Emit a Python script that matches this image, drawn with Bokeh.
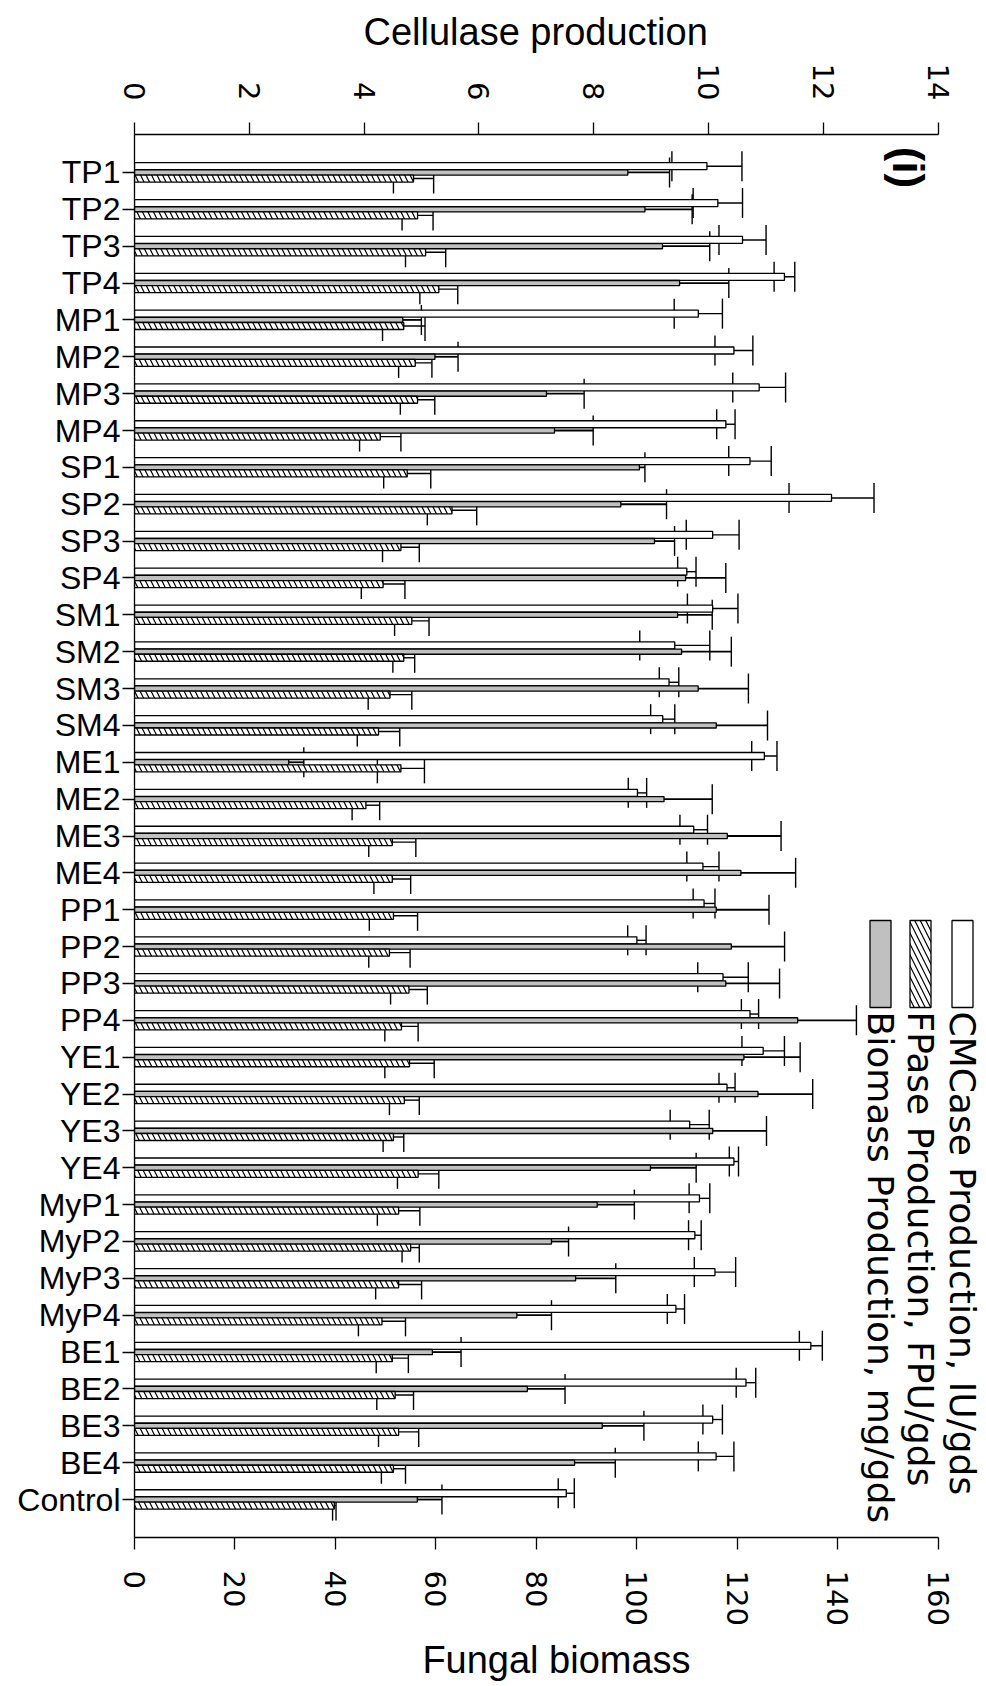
import math
from bokeh.plotting import figure
from bokeh.models import (Range1d, FactorRange, LinearAxis, FixedTicker, ColumnDataSource,
                          Whisker, TeeHead)
from bokeh.transform import dodge
from bokeh.embed import file_html
from bokeh.resources import INLINE
from bokeh.core.properties import value

# ---------------- data ----------------
cats = ["TP1", "TP2", "TP3", "TP4", "MP1", "MP2", "MP3", "MP4",
        "SP1", "SP2", "SP3", "SP4", "SM1", "SM2", "SM3", "SM4",
        "ME1", "ME2", "ME3", "ME4", "PP1", "PP2", "PP3", "PP4",
        "YE1", "YE2", "YE3", "YE4", "MyP1", "MyP2", "MyP3", "MyP4",
        "BE1", "BE2", "BE3", "BE4", "Control"]

cmcase = [9.97, 10.16, 10.59, 11.32, 9.82, 10.44, 10.88, 10.30,
          10.72, 12.14, 10.07, 9.62, 10.07, 9.41, 9.31, 9.20,
          10.97, 8.76, 9.74, 9.90, 9.92, 8.75, 10.25, 10.72,
          10.95, 10.32, 9.67, 10.44, 9.84, 9.76, 10.11, 9.43,
          11.78, 10.65, 10.07, 10.13, 7.52]
cmcase_err = [0.61, 0.43, 0.41, 0.18, 0.42, 0.33, 0.46, 0.16,
              0.37, 0.74, 0.46, 0.16, 0.44, 0.61, 0.17, 0.21,
              0.22, 0.16, 0.24, 0.28, 0.19, 0.16, 0.44, 0.15,
              0.37, 0.14, 0.34, 0.08, 0.18, 0.11, 0.36, 0.15,
              0.20, 0.17, 0.17, 0.31, 0.14]

fpase = [4.86, 4.93, 5.07, 5.30, 4.69, 4.89, 4.93, 4.28,
         4.75, 5.53, 4.64, 4.33, 4.83, 4.69, 4.45, 4.25,
         4.64, 4.03, 4.49, 4.49, 4.51, 4.44, 4.78, 4.65,
         4.79, 4.70, 4.51, 4.94, 4.60, 4.81, 4.60, 4.31,
         4.49, 4.54, 4.60, 4.51, 3.48]
fpase_err = [0.35, 0.27, 0.35, 0.33, 0.37, 0.29, 0.30, 0.36,
             0.41, 0.43, 0.32, 0.38, 0.30, 0.19, 0.38, 0.37,
             0.41, 0.24, 0.41, 0.32, 0.42, 0.36, 0.32, 0.29,
             0.43, 0.26, 0.18, 0.36, 0.37, 0.15, 0.40, 0.41,
             0.28, 0.32, 0.35, 0.21, 0.03]

biomass = [98.2, 101.6, 105.1, 108.5, 53.4, 59.8, 82.0, 83.6,
           100.5, 96.8, 103.5, 109.7, 108.1, 108.9, 112.2, 115.8,
           30.7, 105.4, 118.0, 120.7, 115.8, 118.8, 117.7, 132.0,
           121.3, 124.1, 115.1, 102.7, 92.1, 83.0, 87.8, 76.1,
           59.3, 78.2, 93.1, 87.6, 56.3]
biomass_err = [8.3, 9.4, 9.4, 9.8, 3.7, 4.6, 7.5, 7.7,
               1.1, 9.1, 4.0, 8.0, 6.9, 9.9, 10.0, 10.2,
               3.0, 9.6, 10.7, 10.9, 10.5, 10.6, 10.7, 11.7,
               11.2, 10.9, 10.7, 9.1, 7.4, 3.4, 8.0, 6.9,
               5.7, 7.5, 8.3, 8.1, 4.9]

cel_ticks = [0, 2, 4, 6, 8, 10, 12, 14]
bio_ticks = [0, 20, 40, 60, 80, 100, 120, 140, 160]

legend_labels = ["CMCase Production, IU/gds",
                 "FPase Production, FPU/gds",
                 "Biomass Production, mg/gds"]

# ---------------- layout ----------------
W, H = 986, 1686
B_LEFT, B_RIGHT, B_TOP, B_BOTTOM = 134, 8, 134, 149
FR_L, FR_R = B_LEFT, W - B_RIGHT
FR_T, FR_B = B_TOP, H - B_BOTTOM
CEL_END = 14.7
BIO_END = CEL_END * 160 / 14
PAD = 0.53
Y0, Y1 = -PAD, len(cats) + PAD


def py(ypix):
    """page pixel row -> synthetic coordinate on the categorical axis"""
    return Y1 - (ypix - FR_T) / (FR_B - FR_T) * (Y1 - Y0)


src = ColumnDataSource(dict(
    cat=cats,
    cm=cmcase, cm_lo=[m - e for m, e in zip(cmcase, cmcase_err)],
    cm_hi=[m + e for m, e in zip(cmcase, cmcase_err)],
    fp=fpase, fp_lo=[m - e for m, e in zip(fpase, fpase_err)],
    fp_hi=[m + e for m, e in zip(fpase, fpase_err)],
    bio=biomass, bio_hi=[m + e for m, e in zip(biomass, biomass_err)],
))

p = figure(width=W, height=H,
           x_range=Range1d(0, CEL_END),
           y_range=FactorRange(factors=cats[::-1], range_padding=PAD,
                               range_padding_units="absolute"),
           x_axis_location="above",
           output_backend="svg", toolbar_location=None,
           min_border_left=B_LEFT, min_border_right=B_RIGHT,
           min_border_top=B_TOP, min_border_bottom=B_BOTTOM)
p.extra_x_ranges = {"bio": Range1d(0, BIO_END), "px": Range1d(FR_L, FR_R)}

p.grid.visible = False
p.outline_line_color = None
p.background_fill_color = "white"
p.border_fill_color = "white"

# top axis title (centred on the 0-14 axis, as in the original)
p.title.text = "Cellulase production"
p.title.text_font = "Liberation Sans"
p.title.text_font_size = "38px"
p.title.text_font_style = "normal"
p.title.text_color = "black"
p.title.align = "left"
p.title.offset = 229
p.title.standoff = 16


def style_x(ax, standoff):
    ax.axis_line_color = "black"
    ax.axis_line_width = 1.3
    ax.major_tick_line_color = "black"
    ax.major_tick_line_width = 1.3
    ax.major_tick_out = 12
    ax.major_tick_in = 0
    ax.minor_tick_line_color = None
    ax.major_label_orientation = -math.pi / 2
    ax.major_label_text_font = "DejaVu Sans"
    ax.major_label_text_font_size = "29px"
    ax.major_label_text_color = "black"
    ax.major_label_standoff = standoff
    ax.axis_label_text_font = "Liberation Sans"
    ax.axis_label_text_font_size = "38px"
    ax.axis_label_text_font_style = "normal"
    ax.axis_label_text_color = "black"


top = p.xaxis[0]
top.ticker = FixedTicker(ticks=cel_ticks)
top.bounds = (0, 14)
style_x(top, 22)

bottom = LinearAxis(x_range_name="bio", ticker=FixedTicker(ticks=bio_ticks), bounds=(0, 160))
style_x(bottom, 21)
bottom.axis_label = "Fungal biomass"
bottom.axis_label_standoff = 10
p.add_layout(bottom, "below")

ya = p.yaxis[0]
ya.axis_line_color = "black"
ya.axis_line_width = 1.3
ya.major_tick_line_color = "black"
ya.major_tick_line_width = 1.3
ya.major_tick_out = 12
ya.major_tick_in = 0
ya.minor_tick_line_color = None
ya.major_label_text_font = "Liberation Sans"
ya.major_label_text_font_size = "32px"
ya.major_label_text_color = "black"
ya.major_label_standoff = 2

# ---------------- bars ----------------
OFF_CM, OFF_BIO, OFF_FP = 0.17, 0.0, -0.165
LW = 1.3
HATCH = dict(hatch_pattern="left_diagonal_line", hatch_color="black",
             hatch_scale=11, hatch_weight=1.2)
p.hbar(y=dodge("cat", OFF_CM, range=p.y_range), left=0, right="cm", height=0.19,
       fill_color="white", line_color="black", line_width=LW, source=src)
p.hbar(y=dodge("cat", OFF_BIO, range=p.y_range), left=0, right="bio", height=0.14,
       fill_color="#c0c0c0", line_color="black", line_width=LW, source=src,
       x_range_name="bio")
p.hbar(y=dodge("cat", OFF_FP, range=p.y_range), left=0, right="fp", height=0.19,
       fill_color="white", line_color="black", line_width=LW, source=src, **HATCH)

# ---------------- error bars ----------------
CAP = 30


def tee():
    return TeeHead(size=CAP, line_color="black", line_width=1.4)


p.add_layout(Whisker(source=src, base=dodge("cat", OFF_CM, range=p.y_range),
                     lower="cm_lo", upper="cm_hi", dimension="width",
                     line_color="black", line_width=1.4,
                     lower_head=tee(), upper_head=tee()))
p.add_layout(Whisker(source=src, base=dodge("cat", OFF_FP, range=p.y_range),
                     lower="fp_lo", upper="fp_hi", dimension="width",
                     line_color="black", line_width=1.4,
                     lower_head=tee(), upper_head=tee()))
p.add_layout(Whisker(source=src, base=dodge("cat", OFF_BIO, range=p.y_range),
                     lower="bio", upper="bio_hi", dimension="width",
                     x_range_name="bio",
                     line_color="black", line_width=1.8,
                     lower_head=None, upper_head=tee()))

# ---------------- legend (rotated) ----------------
leg_x = [962, 920, 880]
sw_w = 21
sw_top, sw_bot = 920, 1007
p.quad(left=[leg_x[0] - sw_w / 2], right=[leg_x[0] + sw_w / 2], top=[py(sw_top)], bottom=[py(sw_bot)],
       fill_color="white", line_color="black", line_width=LW, x_range_name="px")
p.quad(left=[leg_x[1] - sw_w / 2], right=[leg_x[1] + sw_w / 2], top=[py(sw_top)], bottom=[py(sw_bot)],
       fill_color="white", line_color="black", line_width=LW, x_range_name="px", **HATCH)
p.quad(left=[leg_x[2] - sw_w / 2], right=[leg_x[2] + sw_w / 2], top=[py(sw_top)], bottom=[py(sw_bot)],
       fill_color="#c0c0c0", line_color="black", line_width=LW, x_range_name="px")
p.text(x=leg_x, y=[py(sw_bot + 4)] * 3, text=legend_labels, angle=-math.pi / 2,
       text_align="left", text_baseline="middle", text_color="black",
       text_font=value("DejaVu Sans"), text_font_size="36px", x_range_name="px")

p.text(x=[908], y=[py(167)], text=["(i)"], angle=-math.pi / 2,
       text_align="center", text_baseline="middle", text_color="black",
       text_font=value("Liberation Sans"), text_font_style="bold", text_font_size="44px",
       x_range_name="px")

open("out.html", "w").write(file_html(p, INLINE))
